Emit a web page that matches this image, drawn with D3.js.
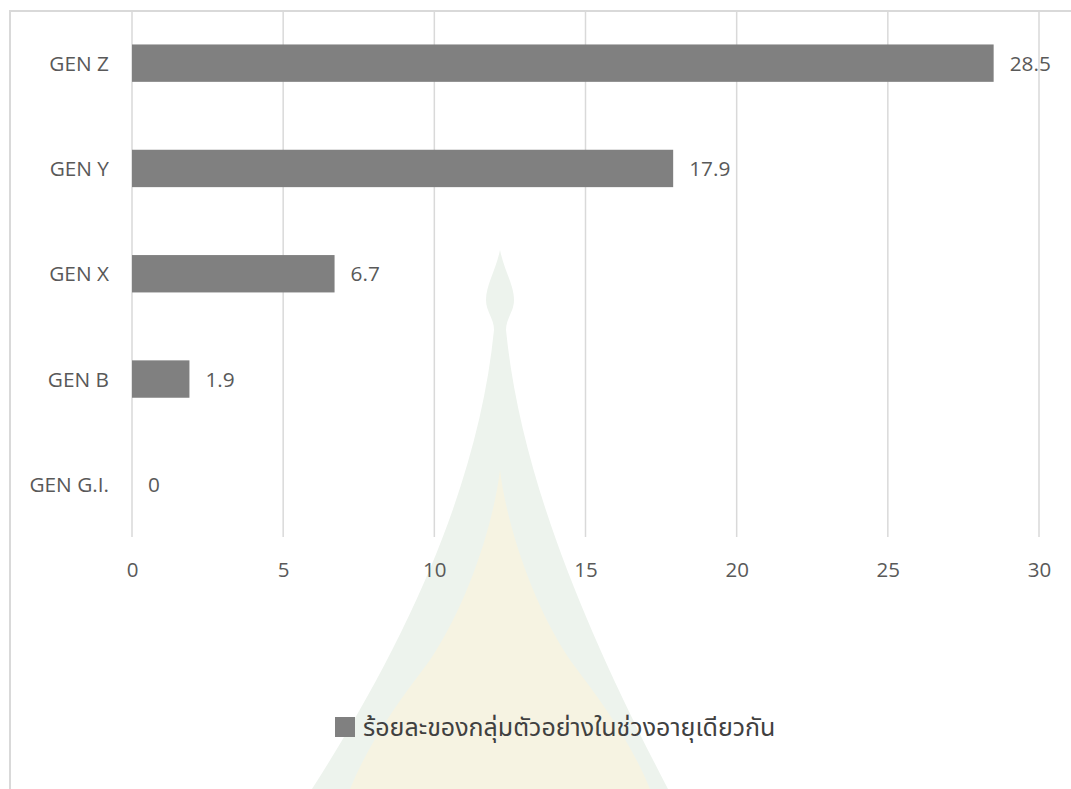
<!DOCTYPE html>
<html>
<head>
<meta charset="utf-8">
<script src="https://cdn.jsdelivr.net/npm/d3@7"></script>
<style>
  html, body { margin: 0; padding: 0; background: #ffffff; }
  svg { display: block; }
  text { font-family: "Open Sans", "Noto Sans", sans-serif; fill: #595959; }
  .thai { font-family: "Noto Sans Thai", "Noto Sans Thai UI", "Tahoma", "Noto Sans", "DejaVu Sans", sans-serif; }
</style>
</head>
<body>
<script>
// Share of respondents in each generation (percent)
const categories = ["GEN Z", "GEN Y", "GEN X", "GEN B", "GEN G.I."];
const values = [28.5, 17.9, 6.7, 1.9, 0];
const tickValues = [0, 5, 10, 15, 20, 25, 30];
const seriesName = "ร้อยละของกลุ่มตัวอย่างในช่วงอายุเดียวกัน";

const W = 1071, H = 789;
const plot = { left: 132, right: 1039, top: 10.5, bottom: 537 };
const barColor = "#808080";
const gridColor = "#d9d9d9";
const labelFont = "'Open Sans', 'Noto Sans', sans-serif";

const svg = d3.select("body").append("svg")
  .attr("width", W).attr("height", H);

// faint emblem in the page background
const wm = svg.append("g").attr("class", "emblem");
wm.append("path")
  .attr("d", "M500,250 C496,270 486,285 486,300 C486,312 494,318 494,330 " +
             "C480,470 420,620 312,789 L668,789 C580,620 520,470 506,330 " +
             "C506,318 514,312 514,300 C514,285 504,270 500,250 Z")
  .attr("fill", "#edf3ed");
wm.append("path")
  .attr("d", "M500,470 C494,520 470,600 430,660 C400,700 370,740 350,789 " +
             "L650,789 C630,740 600,700 570,660 C530,600 506,520 500,470 Z")
  .attr("fill", "#f6f3e2");

// chart frame
svg.append("path")
  .attr("d", `M10,${H} L10,11 L${W},11`)
  .attr("fill", "none").attr("stroke", gridColor).attr("stroke-width", 2);

const x = d3.scaleLinear().domain([0, 30]).range([plot.left, plot.right]);
const y = d3.scaleBand().domain(categories)
  .range([plot.top, plot.bottom])
  .paddingInner(0.645).paddingOuter(0.3225);

// vertical gridlines
svg.append("g").selectAll("line").data(tickValues).join("line")
  .attr("x1", d => x(d)).attr("x2", d => x(d))
  .attr("y1", plot.top).attr("y2", plot.bottom)
  .attr("stroke", gridColor).attr("stroke-width", 1.5);

// x axis labels
const xAxis = d3.axisBottom(x).tickValues(tickValues).tickSize(0).tickPadding(0);
const gx = svg.append("g").attr("transform", `translate(0,${plot.bottom})`).call(xAxis);
gx.select(".domain").remove();
gx.selectAll("text")
  .attr("y", 40).attr("dy", 0)
  .style("font-size", "20.5px").style("fill", "#595959")
  .style("font-family", labelFont);

// category labels
const yAxis = d3.axisLeft(y).tickSize(0).tickPadding(0);
const gy = svg.append("g").attr("transform", `translate(109,0)`).call(yAxis);
gy.select(".domain").remove();
gy.selectAll("text")
  .attr("x", 0).attr("dy", "0.36em")
  .style("font-size", "20.8px").style("fill", "#595959")
  .style("font-family", labelFont);

// bars
const rows = categories.map((c, i) => ({ cat: c, value: values[i] }));
svg.append("g").selectAll("rect").data(rows).join("rect")
  .attr("x", x(0))
  .attr("y", d => y(d.cat))
  .attr("width", d => x(d.value) - x(0))
  .attr("height", y.bandwidth())
  .attr("fill", barColor);

// value labels
svg.append("g").selectAll("text").data(rows).join("text")
  .attr("x", d => x(d.value) + 16)
  .attr("y", d => y(d.cat) + y.bandwidth() / 2)
  .attr("dy", "0.36em")
  .style("font-size", "20.8px")
  .text(d => d3.format(".1~f")(d.value));

// legend
const lg = svg.append("g").attr("transform", "translate(335,717)");
lg.append("rect").attr("width", 20).attr("height", 20).attr("fill", barColor);
lg.append("text").attr("class", "thai")
  .attr("x", 28).attr("y", 10).attr("dy", "0.36em")
  .style("font-size", "25px").style("fill", "#404040")
  .text(seriesName);
</script>
</body>
</html>
